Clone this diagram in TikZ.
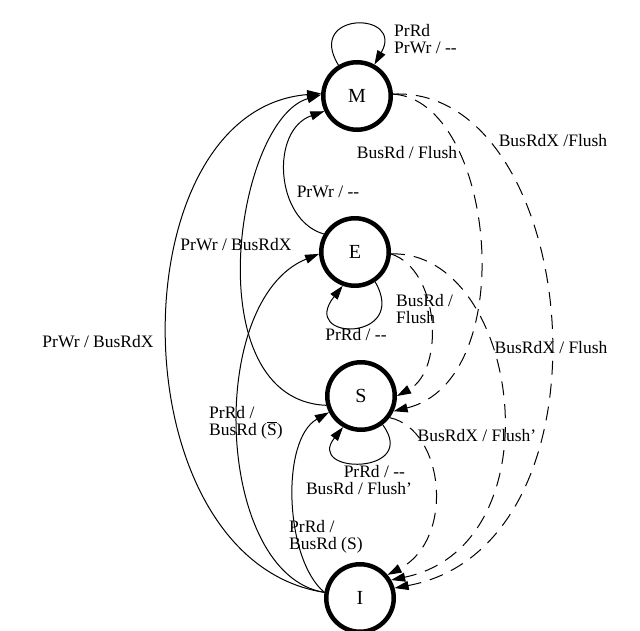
\documentclass[tikz,border=0pt]{standalone}
\usepackage{fontspec}
\setmainfont{Liberation Serif}
\usetikzlibrary{arrows.meta}
\begin{document}
\begin{tikzpicture}[x=1pt,y=-1pt,
  state/.style={circle, draw, line width=4.5pt, minimum size=67.5pt, inner sep=0pt, font=\fontsize{20}{20}\selectfont},
  edge/.style={line width=1pt, -{Triangle[length=14pt,width=9pt]}},
  dedge/.style={edge, dash pattern=on 14pt off 9pt},
  lbl/.style={font=\fontsize{17.5}{16.5}\selectfont, inner sep=0pt, align=left}]
\useasboundingbox (0,0) rectangle (640,631);
\node[state] (M) at (357,96) {M};
\node[state] (E) at (355,252) {E};
\node[state] (S) at (361,396) {S};
\node[state] (I) at (360,598) {I};
% M loop
\draw[edge] (M.121) .. controls (305,11) and (405,11) .. (M.61);
\node[lbl, anchor=west] (lM) at (394,39) {PrRd\\PrWr / -{}-};
% I -> M
\draw[edge] (I.171) .. controls (115,560) and (115,110) .. (M.176);
\node[lbl] (l1) at (98,342) {PrWr / BusRdX};
% S -> M
\draw[edge] (S.195) .. controls (195,400) and (235,120) .. (M.178);
\node[lbl] (l2) at (236,245) {PrWr / BusRdX};
% E -> M
\draw[edge] (E.150) .. controls (275,220) and (270,130) .. (M.205);
\node[lbl] (l3) at (328,192) {PrWr / -{}-};
% I -> E
\draw[edge] (I.171) .. controls (215,575) and (205,300) .. (E.183);
\node[lbl, anchor=west] (l4) at (209,423) {PrRd /\\BusRd (\(\overline{\hbox{S}}\))};
% I -> S
\draw[edge] (I.171) .. controls (285,560) and (280,440) .. (S.207);
\node[lbl, anchor=west] (l5) at (289,537) {PrRd /\\BusRd (S)};
% E loop
\draw[edge] (E.-56) .. controls (410,342) and (298,342) .. (E.-110);
\node[lbl] (l6) at (356,335) {PrRd / -{}-};
% S loop
\draw[edge] (S.-53) .. controls (420,475) and (305,475) .. (S.-120);
\node[lbl, align=right] (l7) at (359,480) {PrRd / -{}-\kern7pt\\BusRd / Flush'};
% dashed
\draw[dedge] (M.3) .. controls (495,100) and (522,380) .. (S.-25);
\node[lbl] (l8) at (407,153) {BusRd / Flush};
\draw[dedge] (M.3) .. controls (580,85) and (625,545) .. (I.16);
\node[lbl] (l9) at (553,141) {BusRdX /Flush};
\draw[dedge] (E.-3) .. controls (440,270) and (445,370) .. (S.0);
\node[lbl, anchor=west] (l10) at (396,309) {BusRd /\\Flush};
\draw[dedge] (E.-3) .. controls (520,250) and (560,545) .. (I.30);
\node[lbl] (l11) at (551,348) {BusRdX / Flush};
\draw[dedge] (S.-37) .. controls (445,430) and (455,540) .. (I.40);
\node[lbl] (l12) at (477,436) {BusRdX / Flush'};
\end{tikzpicture}
\end{document}
